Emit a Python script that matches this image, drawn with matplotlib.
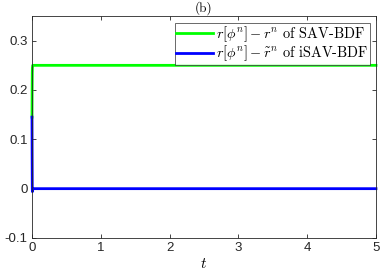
import matplotlib
matplotlib.use("Agg")
import matplotlib.pyplot as plt
import numpy as np

plt.rcParams['mathtext.fontset'] = 'cm'

# data
t_sav = [0.0, 0.002, 0.004, 0.006, 0.01, 0.02, 5.0]
r_sav = [0.145, 0.20, 0.235, 0.245, 0.25, 0.25, 0.25]
t_isav = [0.0, 0.002, 0.004, 0.006, 0.01, 0.02, 5.0]
r_isav = [0.145, 0.06, 0.0, -0.006, -0.002, 0.0, 0.0]

xticks = [0, 1, 2, 3, 4, 5]
yticks = [-0.1, 0, 0.1, 0.2, 0.3]
ytick_labels = ['-0.1', '0', '0.1', '0.2', '0.3']

fig = plt.figure(figsize=(3.82, 2.73), dpi=100)
ax = fig.add_axes([32/382, 1-238/273, (376-32)/382, (238-16)/273])

ax.plot(t_sav, r_sav, color='#00ff00', lw=2, clip_on=False,
        label=r'$r[\phi^n] - r^n$ of SAV-BDF')
ax.plot(t_isav, r_isav, color='#0000ff', lw=2, clip_on=False,
        label=r'$r[\phi^n] - \tilde{r}^n$ of iSAV-BDF')

ax.set_xlim(0, 5)
ax.set_ylim(-0.1, 0.35)
ax.set_xticks(xticks)
ax.set_xticklabels([str(x) for x in xticks])
ax.set_yticks(yticks)
ax.set_yticklabels(ytick_labels)
ax.tick_params(direction='in', top=True, right=True, length=3, width=0.6,
               labelsize=9.5, colors='#262626', pad=3)
for lab in ax.get_xticklabels() + ax.get_yticklabels():
    lab.set_family('Liberation Sans')
for s in ax.spines.values():
    s.set_linewidth(0.6)
    s.set_color('#262626')

ax.set_xlabel(r'$t$', fontsize=11, labelpad=1)
ax.set_title('(b)', fontsize=9.5, family='cmr10', pad=3)

leg = ax.legend(loc='upper right', prop={'family': 'cmr10', 'size': 10.3},
                frameon=True, fancybox=False, borderpad=0.1, labelspacing=0.0,
                handlelength=2.6, handletextpad=0.2, borderaxespad=0.0,
                bbox_to_anchor=(1 - 6/344, 1 - 6.7/222))
leg.get_frame().set_edgecolor('#262626')
leg.get_frame().set_linewidth(0.6)

fig.savefig('out.png', dpi=100)
